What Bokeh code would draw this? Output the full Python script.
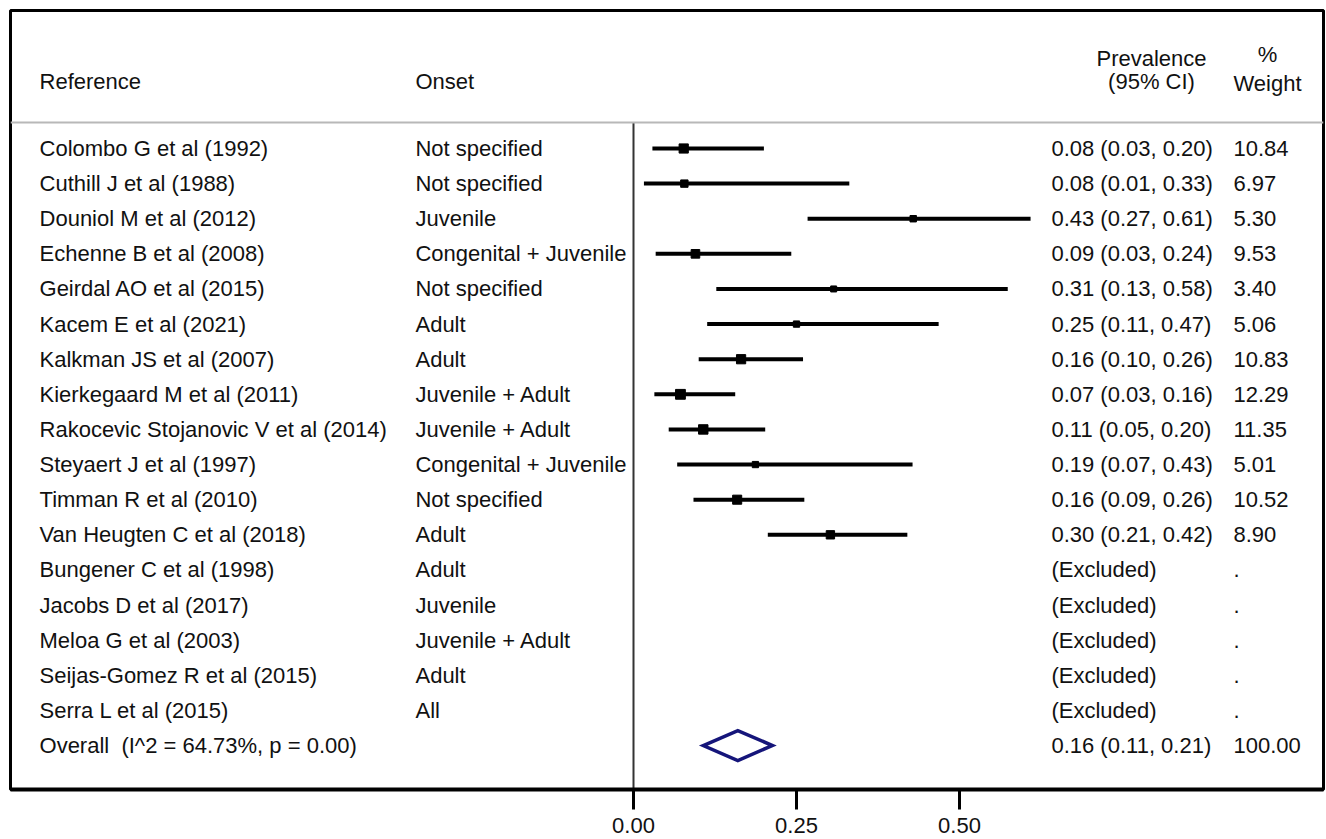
from bokeh.plotting import figure
from bokeh.models import Range1d, Span, FixedTicker, LinearAxis, PrintfTickFormatter, ColumnDataSource
from bokeh.core.properties import value
from bokeh.embed import file_html
from bokeh.resources import INLINE
import math

# ---------------- data ----------------
references = [
    "Colombo G et al (1992)", "Cuthill J et al (1988)", "Douniol M et al (2012)",
    "Echenne B et al (2008)", "Geirdal AO et al (2015)", "Kacem E et al (2021)",
    "Kalkman JS et al (2007)", "Kierkegaard M et al (2011)",
    "Rakocevic Stojanovic V et al (2014)", "Steyaert J et al (1997)",
    "Timman R et al (2010)", "Van Heugten C et al (2018)",
    "Bungener C et al (1998)", "Jacobs D et al (2017)", "Meloa G et al (2003)",
    "Seijas-Gomez R et al (2015)", "Serra L et al (2015)",
    "Overall\u00a0 (I^2 = 64.73%, p = 0.00)",
]
onsets = [
    "Not specified", "Not specified", "Juvenile", "Congenital + Juvenile",
    "Not specified", "Adult", "Adult", "Juvenile + Adult", "Juvenile + Adult",
    "Congenital + Juvenile", "Not specified", "Adult",
    "Adult", "Juvenile", "Juvenile + Adult", "Adult", "All", "",
]
# study estimates (first 12 rows; the rest are excluded)
est = [0.077, 0.078, 0.429, 0.095, 0.307, 0.250, 0.165, 0.072, 0.107, 0.187, 0.159, 0.302]
lo = [0.029, 0.016, 0.267, 0.034, 0.127, 0.113, 0.100, 0.032, 0.054, 0.067, 0.092, 0.206]
hi = [0.200, 0.331, 0.609, 0.242, 0.574, 0.468, 0.260, 0.156, 0.202, 0.428, 0.262, 0.420]
weights = [10.84, 6.97, 5.30, 9.53, 3.40, 5.06, 10.83, 12.29, 11.35, 5.01, 10.52, 8.90]
prev_labels = [
    "0.08 (0.03, 0.20)", "0.08 (0.01, 0.33)", "0.43 (0.27, 0.61)", "0.09 (0.03, 0.24)",
    "0.31 (0.13, 0.58)", "0.25 (0.11, 0.47)", "0.16 (0.10, 0.26)", "0.07 (0.03, 0.16)",
    "0.11 (0.05, 0.20)", "0.19 (0.07, 0.43)", "0.16 (0.09, 0.26)", "0.30 (0.21, 0.42)",
    "(Excluded)", "(Excluded)", "(Excluded)", "(Excluded)", "(Excluded)",
    "0.16 (0.11, 0.21)",
]
weight_labels = [
    "10.84", "6.97", "5.30", "9.53", "3.40", "5.06", "10.83", "12.29", "11.35",
    "5.01", "10.52", "8.90", ".", ".", ".", ".", ".", "100.00",
]
overall_est, overall_lo, overall_hi = 0.16, 0.107, 0.213
x_ticks = [0.0, 0.25, 0.50]

# ---------------- figure ----------------
FONT = value("Liberation Sans")
FS = "22px"
TXT = "#111111"

p = figure(width=1326, height=839, output_backend="svg", toolbar_location=None,
           x_range=Range1d(-0.95552, 1.05828), y_range=Range1d(18.252, -3.929),
           x_axis_location=None, y_axis_location=None,
           min_border_left=10, min_border_right=3, min_border_top=10, min_border_bottom=50)
p.grid.visible = False
p.outline_line_color = "black"
p.outline_line_width = 3
p.background_fill_color = "white"
p.border_fill_color = "white"

ax = LinearAxis(ticker=FixedTicker(ticks=x_ticks), formatter=PrintfTickFormatter(format="%.2f"))
ax.axis_line_width = 4
ax.axis_line_color = "black"
ax.major_tick_out = 20
ax.major_tick_in = 0
ax.major_tick_line_width = 3
ax.minor_tick_line_color = None
ax.major_label_text_font = "Liberation Sans"
ax.major_label_text_font_size = FS
ax.major_label_text_color = TXT
ax.major_label_standoff = 8
p.add_layout(ax, "below")

header_sep = -0.74
p.add_layout(Span(location=header_sep, dimension="width", line_color="#b8b8b8", line_width=2))

n = len(references)
rows = list(range(n))
nst = len(est)

# zero line
p.segment(x0=[0], y0=[header_sep], x1=[0], y1=[18.252], line_color="#333333", line_width=2)

# CIs and boxes
src = ColumnDataSource(dict(
    y=rows[:nst], est=est, lo=lo, hi=hi,
    size=[max(6.0, 2.8 * math.sqrt(w)) for w in weights],
))
p.segment(x0="lo", y0="y", x1="hi", y1="y", source=src, line_color="black", line_width=4)
p.scatter(x="est", y="y", size="size", marker="square", source=src,
          fill_color="black", line_color="black")

# overall diamond
oy = n - 1
dh = 0.427
p.patch(x=[overall_lo, overall_est, overall_hi, overall_est, overall_lo],
        y=[oy, oy - dh, oy, oy + dh, oy],
        fill_color=None, line_color="#15157a", line_width=3.5, line_join="miter")

# column x positions (in data units of the x scale)
x_ref = -0.911
x_onset = -0.3344
x_prev = 0.6410
x_weight = 0.9202
x_prev_hdr = 0.7945
x_weight_hdr = 0.9724

def col(xpos, labels, ys, align="left"):
    p.text(x=[xpos] * len(labels), y=ys, text=labels, text_font=FONT,
           text_font_size=FS, text_color=TXT, text_align=align, text_baseline="middle")

col(x_ref, references, rows)
col(x_onset, onsets, rows)
col(x_prev, prev_labels, rows)
col(x_weight, weight_labels, rows)

# headers
h1, h2 = -2.55, -1.91
col(x_ref, ["Reference"], [h2])
col(x_onset, ["Onset"], [h2])
col(x_prev_hdr, ["Prevalence", "(95% CI)"], [h1, h2], align="center")
col(x_weight_hdr, ["%", "Weight"], [h1 - 0.14, h2 + 0.05], align="center")

open("out.html", "w").write(file_html(p, INLINE))
